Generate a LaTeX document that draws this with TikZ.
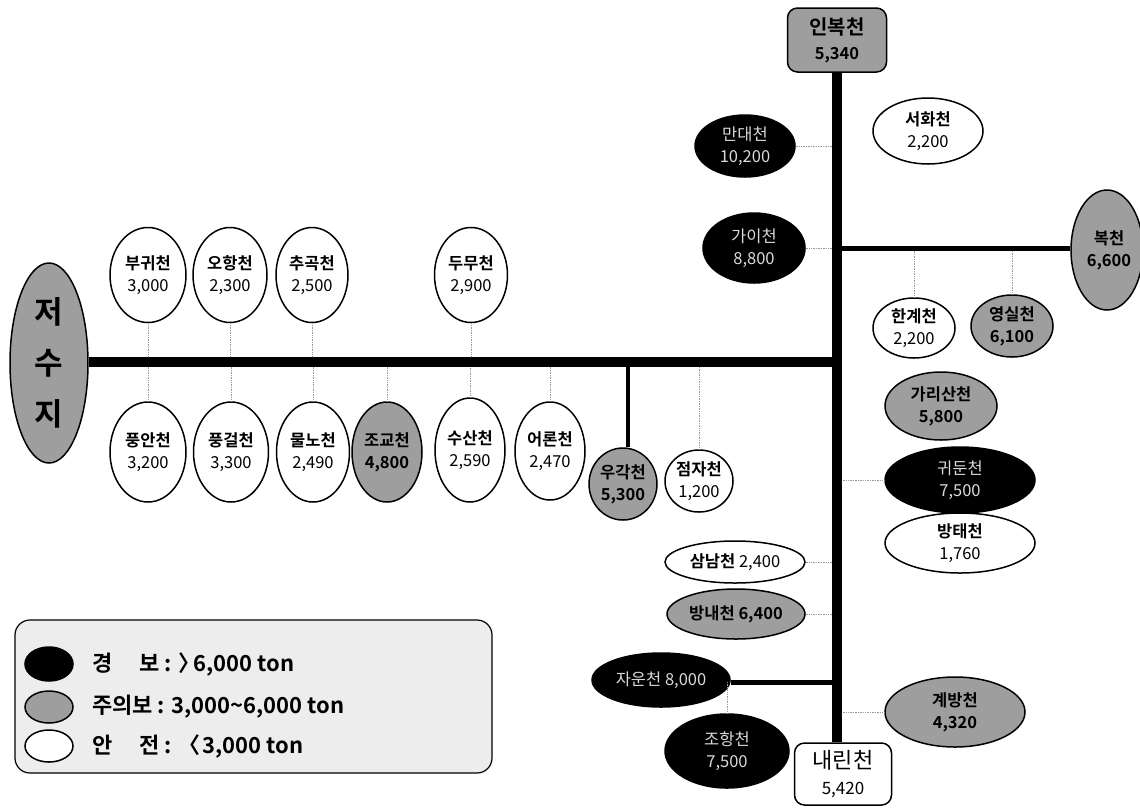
\documentclass[tikz,border=0pt]{standalone}
\usepackage{fontspec}
\setmainfont{Noto Sans CJK KR}[BoldFont={Noto Sans CJK KR Bold}]
\usetikzlibrary{shapes.geometric}
\definecolor{hgray}{gray}{0.62}
\definecolor{lgray}{gray}{0.93}
\definecolor{ltxt}{gray}{0.85}
\definecolor{dotgray}{gray}{0.6}
\tikzset{
  ell/.style={ellipse, draw=black, line width=1.5pt, inner sep=0pt},
  wht/.style={ell, fill=white},
  gry/.style={ell, fill=hgray},
  blk/.style={ell, fill=black},
  tx/.style={align=center, inner sep=0pt, font=\fontsize{16.5}{22}\selectfont},
  txg/.style={tx, font=\bfseries\fontsize{16.5}{22}\selectfont},
  txb/.style={tx, text=ltxt},
  mainline/.style={line width=10pt},
  subline/.style={line width=5pt},
  dotc/.style={dotgray, densely dotted, line width=0.7pt},
  rbox/.style={draw=black, line width=1.5pt, rounded corners=10pt, inner sep=0pt, align=center}
}
\begin{document}
\begin{tikzpicture}[x=1pt,y=-1pt]
\fill[white] (0,0) rectangle (1140,807);
\useasboundingbox (0,0) rectangle (1140,807);

% reservoir
\node[gry, minimum width=78pt, minimum height=200pt] (jsj) at (49,363) {};
\node[align=center, inner sep=0pt, font=\bfseries\fontsize{31}{51}\selectfont] (jsjt) at (jsj) {저\\수\\지};

% junction points
\coordinate (J) at (837,362);

% top row
\node[wht, minimum width=76pt, minimum height=95pt] (bugwi) at (148,275) {};
\node[tx] (bugwit) at (bugwi) {\textbf{부귀천}\\3,000};
\node[wht, minimum width=74pt, minimum height=95pt] (ohang) at (230,275) {};
\node[tx] (ohangt) at (ohang) {\textbf{오항천}\\2,300};
\node[wht, minimum width=72pt, minimum height=95pt] (chugok) at (312,275) {};
\node[tx] (chugokt) at (chugok) {\textbf{추곡천}\\2,500};
\node[wht, minimum width=73pt, minimum height=95pt] (dumu) at (471,275) {};
\node[tx] (dumut) at (dumu) {\textbf{두무천}\\2,900};

% bottom row
\node[wht, minimum width=76pt, minimum height=100pt] (pungan) at (148,452) {};
\node[tx] (pungant) at (pungan) {\textbf{풍안천}\\3,200};
\node[wht, minimum width=75pt, minimum height=100pt] (punggeol) at (231,452) {};
\node[tx] (punggeolt) at (punggeol) {\textbf{풍걸천}\\3,300};
\node[wht, minimum width=73pt, minimum height=100pt] (mulno) at (313,452) {};
\node[tx] (mulnot) at (mulno) {\textbf{물노천}\\2,490};
\node[gry, minimum width=70pt, minimum height=100pt] (jogyo) at (387,452) {};
\node[txg] (jogyot) at (jogyo) {조교천\\4,800};
\node[wht, minimum width=70pt, minimum height=104pt] (susan) at (470,450) {};
\node[tx] (susant) at (susan) {\textbf{수산천}\\2,590};
\node[wht, minimum width=70pt, minimum height=98pt] (eoron) at (550,451) {};
\node[tx] (eoront) at (eoron) {\textbf{어론천}\\2,470};
\node[gry, minimum width=68pt, minimum height=72pt] (ugak) at (623,484) {};
\node[txg] (ugakt) at (ugak) {우각천\\5,300};
\node[wht, minimum width=68pt, minimum height=62pt] (jeomja) at (699,481) {};
\node[tx] (jeomjat) at (jeomja) {\textbf{점자천}\\1,200};

% trunk end boxes
\node[rbox, fill=hgray, minimum width=99pt, minimum height=64pt, font=\bfseries\fontsize{20}{25}\selectfont] (inbok) at (837,40)
  {인복천\\{\fontsize{16.5}{25}\selectfont 5,340}};
\node[rbox, fill=white, minimum width=97pt, minimum height=62pt, font=\fontsize{22}{26}\selectfont] (naerin) at (843,774)
  {내린천\\{\fontsize{17}{26}\selectfont 5,420}};

% right side
\node[blk, minimum width=100pt, minimum height=62pt] (mandae) at (745,146) {};
\node[txb] (mandaet) at (mandae) {만대천\\10,200};
\node[wht, minimum width=110pt, minimum height=66pt] (seohwa) at (928,131) {};
\node[tx] (seohwat) at (seohwa) {\textbf{서화천}\\2,200};
\node[blk, minimum width=102pt, minimum height=70pt] (gai) at (754,248) {};
\node[txb] (gait) at (gai) {가이천\\8,800};
\node[gry, minimum width=72pt, minimum height=120pt] (bok) at (1107,250) {};
\node[txg] (bokt) at (1109,250) {복천\\6,600};
\node[wht, minimum width=82pt, minimum height=60pt] (hangye) at (914,328) {};
\node[tx] (hangyet) at (hangye) {\textbf{한계천}\\2,200};
\node[gry, minimum width=82pt, minimum height=62pt] (yeongsil) at (1012,326) {};
\node[txg] (yeongsilt) at (yeongsil) {영실천\\6,100};
\node[gry, minimum width=112pt, minimum height=68pt] (garisan) at (941,406) {};
\node[txg] (garisant) at (garisan) {가리산천\\5,800};
\node[blk, minimum width=150pt, minimum height=66pt] (gwidun) at (960,480) {};
\node[txb] (gwidunt) at (gwidun) {귀둔천\\7,500};
\node[wht, minimum width=150pt, minimum height=60pt] (bangtae) at (960,543) {};
\node[tx] (bangtaet) at (bangtae) {\textbf{방태천}\\1,760};
\node[wht, minimum width=140pt, minimum height=42pt] (samnam) at (735,562) {};
\node[tx] (samnamt) at (samnam) {\textbf{삼남천} 2,400};
\node[gry, minimum width=138pt, minimum height=50pt] (bangnae) at (736,614) {};
\node[txg] (bangnaet) at (bangnae) {방내천 6,400};
\node[blk, minimum width=138pt, minimum height=54pt] (jaun) at (661,680) {};
\node[txb] (jaunt) at (jaun) {자운천 8,000};
\node[blk, minimum width=124pt, minimum height=74pt] (joham) at (727,751) {};
\node[txb] (johamt) at (joham) {조항천\\7,500};
\node[gry, minimum width=140pt, minimum height=70pt] (gyebang) at (955,712) {};
\node[txg] (gyebangt) at (gyebang) {계방천\\4,320};

% dotted tributary connectors
\foreach \n in {bugwi,ohang,chugok,dumu}
  \draw[dotc] (\n.south) -- (\n.south |- J);
\foreach \n in {pungan,punggeol,mulno,jogyo,susan,eoron,jeomja}
  \draw[dotc] (\n.north) -- (\n.north |- J);
\foreach \n in {mandae,gai,samnam,bangnae}
  \draw[dotc] (\n.east) -- (\n.east -| J);
\foreach \n in {gwidun,gyebang}
  \draw[dotc] (\n.west) -- (\n.west -| J);
\coordinate (BJ) at (837,248);
\coordinate (ZJ) at (837,682);
\draw[dotc] (hangye.north) -- (hangye.north |- BJ);
\draw[dotc] (yeongsil.north) -- (yeongsil.north |- BJ);
\draw[dotc] (joham.north) -- (joham.north |- ZJ);

% main river lines
\draw[mainline] (jsj.east |- J) -- (J);
\draw[mainline] (inbok.south) -- (inbok.south |- naerin.north);
\draw[subline] (BJ) -- (bok.west |- BJ);
\draw[subline] (ZJ) -- (jaun.east |- ZJ);
\coordinate (UJ) at (628,362);
\draw[line width=4pt] (UJ) -- (UJ |- ugak.north);

% legend
\node[draw=black, line width=1.2pt, fill=lgray, rounded corners=15pt, minimum width=477pt, minimum height=153pt, inner sep=0pt] (legend) at (253.5,696.5) {};
\node[blk, minimum width=48pt, minimum height=34pt] (lgb) at (49,664) {};
\node[gry, minimum width=48pt, minimum height=32pt] (lgg) at (49,707) {};
\node[wht, minimum width=48pt, minimum height=32pt] (lgw) at (49,746) {};
\node[anchor=west, inner sep=0pt, font=\bfseries\fontsize{22}{26}\selectfont] (lt1) at (92,664) {\makebox[3.05em][s]{경\hfill 보} : 〉\kern-0.3em6,000 ton};
\node[anchor=west, inner sep=0pt, font=\bfseries\fontsize{22}{26}\selectfont] (lt2) at (92,707) {주의보 : 3,000\textasciitilde 6,000 ton};
\node[anchor=west, inner sep=0pt, font=\bfseries\fontsize{22}{26}\selectfont] (lt3) at (92,746) {\makebox[3.05em][s]{안\hfill 전} : 〈\kern0.12em3,000 ton};
\end{tikzpicture}
\end{document}
